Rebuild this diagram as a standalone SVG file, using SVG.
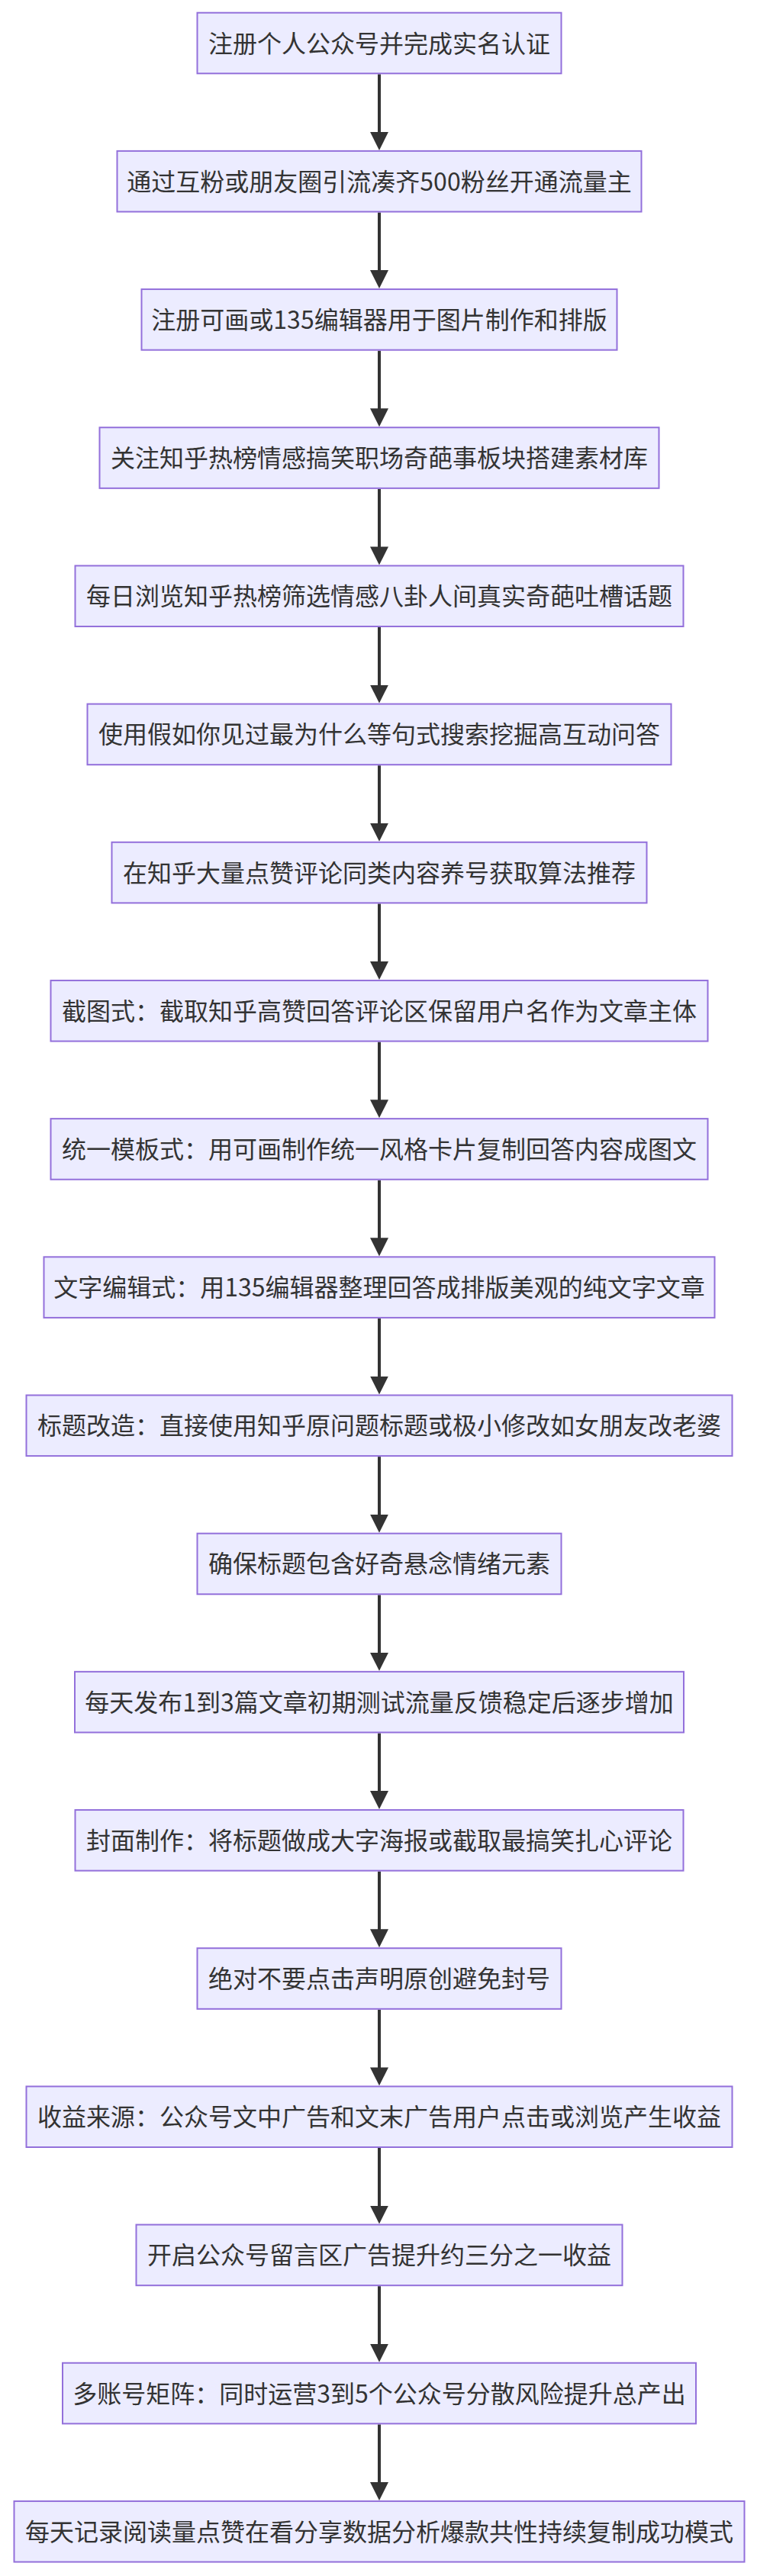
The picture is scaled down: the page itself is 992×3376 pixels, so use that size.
<svg xmlns="http://www.w3.org/2000/svg" width="992" height="3376" viewBox="0 0 992 3376">
<style>
.node rect{fill:#ECECFF;stroke:#9370DB;stroke-width:2}
.node text{font-family:"Noto Sans CJK SC","Noto Sans",sans-serif;font-size:32px;fill:#333333;text-anchor:middle}
.edge{stroke:#333333;stroke-width:4;fill:none;marker-end:url(#arrow)}
</style>
<defs>
<marker id="arrow" markerUnits="userSpaceOnUse" markerWidth="24" markerHeight="24" refX="4" refY="12" orient="auto">
<path d="M0,0 L24,12 L0,24 z" fill="#333333"/>
</marker>
</defs>
<rect width="992" height="3376" fill="#ffffff"/>
<g id="edges">
<line class="edge" x1="497" y1="97.3" x2="497" y2="176.88"/>
<line class="edge" x1="497" y1="278.48" x2="497" y2="358.06"/>
<line class="edge" x1="497" y1="459.66" x2="497" y2="539.24"/>
<line class="edge" x1="497" y1="640.84" x2="497" y2="720.42"/>
<line class="edge" x1="497" y1="822.02" x2="497" y2="901.6"/>
<line class="edge" x1="497" y1="1003.2" x2="497" y2="1082.78"/>
<line class="edge" x1="497" y1="1184.38" x2="497" y2="1263.96"/>
<line class="edge" x1="497" y1="1365.56" x2="497" y2="1445.14"/>
<line class="edge" x1="497" y1="1546.74" x2="497" y2="1626.32"/>
<line class="edge" x1="497" y1="1727.92" x2="497" y2="1807.5"/>
<line class="edge" x1="497" y1="1909.1" x2="497" y2="1988.68"/>
<line class="edge" x1="497" y1="2090.28" x2="497" y2="2169.86"/>
<line class="edge" x1="497" y1="2271.46" x2="497" y2="2351.04"/>
<line class="edge" x1="497" y1="2452.64" x2="497" y2="2532.22"/>
<line class="edge" x1="497" y1="2633.82" x2="497" y2="2713.4"/>
<line class="edge" x1="497" y1="2815" x2="497" y2="2894.58"/>
<line class="edge" x1="497" y1="2996.18" x2="497" y2="3075.76"/>
<line class="edge" x1="497" y1="3177.36" x2="497" y2="3256.94"/>
</g>
<g id="n1" class="node"><rect x="258.5" y="16.7" width="477" height="79.6"/><text x="497" y="68.5">注册个人公众号并完成实名认证</text></g>
<g id="n2" class="node"><rect x="153.5" y="197.88" width="687" height="79.6"/><text x="497" y="249.68">通过互粉或朋友圈引流凑齐500粉丝开通流量主</text></g>
<g id="n3" class="node"><rect x="185.5" y="379.06" width="623" height="79.6"/><text x="497" y="430.86">注册可画或135编辑器用于图片制作和排版</text></g>
<g id="n4" class="node"><rect x="130.5" y="560.24" width="733" height="79.6"/><text x="497" y="612.04">关注知乎热榜情感搞笑职场奇葩事板块搭建素材库</text></g>
<g id="n5" class="node"><rect x="98.5" y="741.42" width="797" height="79.6"/><text x="497" y="793.22">每日浏览知乎热榜筛选情感八卦人间真实奇葩吐槽话题</text></g>
<g id="n6" class="node"><rect x="114.5" y="922.6" width="765" height="79.6"/><text x="497" y="974.4">使用假如你见过最为什么等句式搜索挖掘高互动问答</text></g>
<g id="n7" class="node"><rect x="146.5" y="1103.78" width="701" height="79.6"/><text x="497" y="1155.58">在知乎大量点赞评论同类内容养号获取算法推荐</text></g>
<g id="n8" class="node"><rect x="66.5" y="1284.96" width="861" height="79.6"/><text x="497" y="1336.76">截图式：截取知乎高赞回答评论区保留用户名作为文章主体</text></g>
<g id="n9" class="node"><rect x="66.5" y="1466.14" width="861" height="79.6"/><text x="497" y="1517.94">统一模板式：用可画制作统一风格卡片复制回答内容成图文</text></g>
<g id="n10" class="node"><rect x="57.5" y="1647.32" width="879" height="79.6"/><text x="497" y="1699.12">文字编辑式：用135编辑器整理回答成排版美观的纯文字文章</text></g>
<g id="n11" class="node"><rect x="34.5" y="1828.5" width="925" height="79.6"/><text x="497" y="1880.3">标题改造：直接使用知乎原问题标题或极小修改如女朋友改老婆</text></g>
<g id="n12" class="node"><rect x="258.5" y="2009.68" width="477" height="79.6"/><text x="497" y="2061.48">确保标题包含好奇悬念情绪元素</text></g>
<g id="n13" class="node"><rect x="98" y="2190.86" width="798" height="79.6"/><text x="497" y="2242.66">每天发布1到3篇文章初期测试流量反馈稳定后逐步增加</text></g>
<g id="n14" class="node"><rect x="98.5" y="2372.04" width="797" height="79.6"/><text x="497" y="2423.84">封面制作：将标题做成大字海报或截取最搞笑扎心评论</text></g>
<g id="n15" class="node"><rect x="258.5" y="2553.22" width="477" height="79.6"/><text x="497" y="2605.02">绝对不要点击声明原创避免封号</text></g>
<g id="n16" class="node"><rect x="34.5" y="2734.4" width="925" height="79.6"/><text x="497" y="2786.2">收益来源：公众号文中广告和文末广告用户点击或浏览产生收益</text></g>
<g id="n17" class="node"><rect x="178.5" y="2915.58" width="637" height="79.6"/><text x="497" y="2967.38">开启公众号留言区广告提升约三分之一收益</text></g>
<g id="n18" class="node"><rect x="82" y="3096.76" width="830" height="79.6"/><text x="497" y="3148.56">多账号矩阵：同时运营3到5个公众号分散风险提升总产出</text></g>
<g id="n19" class="node"><rect x="18.5" y="3277.94" width="957" height="79.6"/><text x="497" y="3329.74">每天记录阅读量点赞在看分享数据分析爆款共性持续复制成功模式</text></g>
</svg>
